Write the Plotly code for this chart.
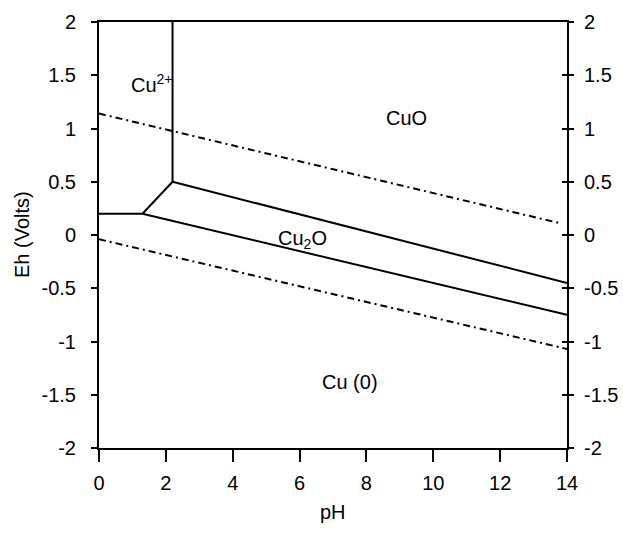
import plotly.graph_objects as go

# Boundary lines (pH, Eh)
cu2_cuo_ph = [2.2, 2.2]
cu2_cuo_eh = [2.0, 0.5]
cu2_cu_ph = [0, 1.3]
cu2_cu_eh = [0.2, 0.2]
cu2_cu2o_ph = [1.3, 2.2]
cu2_cu2o_eh = [0.2, 0.5]
cuo_cu2o_ph = [2.2, 14]
cuo_cu2o_eh = [0.5, -0.45]
cu2o_cu_ph = [1.3, 14]
cu2o_cu_eh = [0.2, -0.75]
# water stability lines (dash-dot)
o2_ph = [0, 13.8]
o2_eh = [1.14, 0.11]
h2_ph = [0, 14]
h2_eh = [-0.04, -1.07]

labels = ["Cu<sup>2+</sup>", "CuO", "Cu<sub>2</sub>O", "Cu (0)"]
label_ph = [1.6, 9.2, 6.1, 7.5]
label_eh = [1.42, 1.1, -0.04, -1.38]

x_ticks = [0, 2, 4, 6, 8, 10, 12, 14]
y_ticks = [2, 1.5, 1, 0.5, 0, -0.5, -1, -1.5, -2]
y_ticktext = ["2", "1.5", "1", "0.5", "0", "-0.5", "-1", "-1.5", "-2"]

FONT = "Arial"
fig = go.Figure()

solid = dict(color="black", width=2)
dashdot = dict(color="black", width=2, dash="7px,4px,2px,4px")
for xs, ys in [(cu2_cuo_ph, cu2_cuo_eh), (cu2_cu_ph, cu2_cu_eh), (cu2_cu2o_ph, cu2_cu2o_eh),
               (cuo_cu2o_ph, cuo_cu2o_eh), (cu2o_cu_ph, cu2o_cu_eh)]:
    fig.add_trace(go.Scatter(x=xs, y=ys, mode="lines", line=solid, showlegend=False, hoverinfo="skip"))
for xs, ys in [(o2_ph, o2_eh), (h2_ph, h2_eh)]:
    fig.add_trace(go.Scatter(x=xs, y=ys, mode="lines", line=dashdot, showlegend=False, hoverinfo="skip"))

# invisible traces to activate the right axes
fig.add_trace(go.Scatter(x=[0], y=[0], yaxis="y2", mode="markers", marker=dict(opacity=0), showlegend=False, hoverinfo="skip"))
fig.add_trace(go.Scatter(x=[0], y=[0], yaxis="y3", mode="markers", marker=dict(opacity=0), showlegend=False, hoverinfo="skip"))

for t, x, y in zip(labels, label_ph, label_eh):
    fig.add_annotation(x=x, y=y, text=t, showarrow=False, font=dict(family=FONT, size=20, color="black"))

fig.add_annotation(xref="paper", yref="paper", x=0, y=0.5, xshift=-77, xanchor="center", yanchor="middle",
                   text="Eh (Volts)", textangle=-90,
                   showarrow=False, font=dict(family=FONT, size=20, color="black"))
fig.add_annotation(xref="paper", yref="paper", x=0.5, y=0, yshift=-64, xanchor="center", yanchor="middle",
                   text="pH", showarrow=False, font=dict(family=FONT, size=20, color="black"))

tickfont = dict(family=FONT, size=20, color="black")
fig.update_layout(
    template="none",
    width=623, height=547,
    margin=dict(l=99, r=56, t=22, b=99, autoexpand=False),
    plot_bgcolor="white", paper_bgcolor="white",
    xaxis=dict(range=[0, 14], tickvals=x_ticks, showgrid=False, zeroline=False, automargin=False,
               showline=True, linecolor="black", linewidth=2, mirror=True,
               ticks="outside", ticklen=12, tickwidth=2, tickcolor="black",
               tickfont=tickfont, ticklabelstandoff=4),
    yaxis=dict(range=[-2, 2], tickvals=y_ticks, ticktext=y_ticktext, showgrid=False, zeroline=False,
               automargin=False, showline=True, linecolor="black", linewidth=2,
               ticks="outside", ticklen=6, tickwidth=1.5, tickcolor="black",
               tickfont=tickfont, ticklabelstandoff=11),
    yaxis2=dict(range=[-2, 2], tickvals=y_ticks, ticktext=y_ticktext, overlaying="y", side="right",
                automargin=False, showgrid=False, zeroline=False, showline=True, linecolor="black", linewidth=2,
                ticks="outside", ticklen=5, tickwidth=1.5, tickcolor="black",
                tickfont=tickfont, ticklabelstandoff=6),
    yaxis3=dict(range=[-2, 2], tickvals=y_ticks, overlaying="y", side="right", automargin=False,
                showgrid=False, zeroline=False, showline=False, showticklabels=False,
                ticks="inside", ticklen=5, tickwidth=1.5, tickcolor="black"),
)

fig.write_html("out.html")
